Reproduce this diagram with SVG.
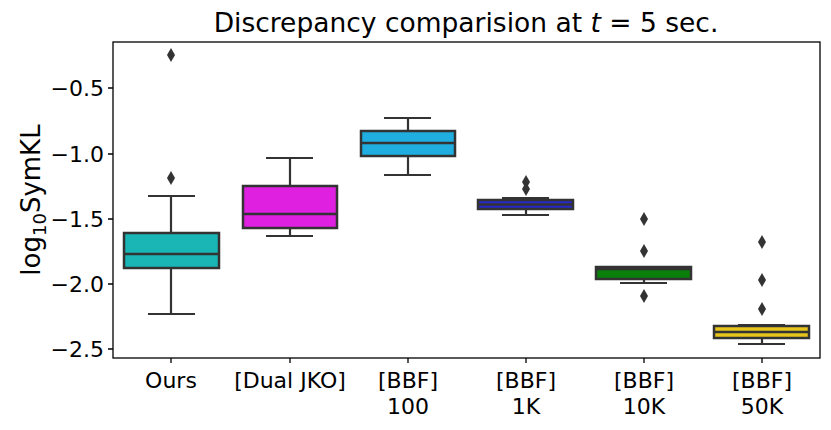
<svg xmlns="http://www.w3.org/2000/svg" width="831" height="430" viewBox="0 0 831 430">
<style>
text{font-family:"DejaVu Sans",sans-serif;fill:#000}
.t{font-size:22px}
.b{stroke:#333;stroke-width:2.5}
.w{stroke:#333;stroke-width:2.2;fill:none}
.o{fill:#333}
.ax{stroke:#000;stroke-width:1.3;fill:none}
</style>
<defs><path id="d" d="M0,-7 L4,0 L0,7 L-4,0Z"/></defs>
<rect width="831" height="430" fill="#fff"/>
<text x="466" y="32" font-size="26.5" text-anchor="middle">Discrepancy comparision at <tspan font-style="italic">t</tspan> = 5 sec.</text>
<g id="axes">
<rect class="ax" x="113" y="42" width="707" height="316"/>
<g class="ax"><path d="M113,88h-5M113,154h-5M113,219h-5M113,284h-5M113,349h-5M171,358v5M290,358v5M408,358v5M526,358v5M644,358v5M762,358v5"/></g>
<g class="t" text-anchor="end"><text x="104" y="96">−0.5</text><text x="104" y="162">−1.0</text><text x="104" y="227">−1.5</text><text x="104" y="292">−2.0</text><text x="104" y="357">−2.5</text></g>
<g class="t" text-anchor="middle"><text x="171" y="388">Ours</text><text x="290" y="388">[Dual JKO]</text><text x="408" y="388">[BBF]</text><text x="408" y="414">100</text><text x="526" y="388">[BBF]</text><text x="526" y="414">1K</text><text x="644" y="388">[BBF]</text><text x="644" y="414">10K</text><text x="762" y="388">[BBF]</text><text x="762" y="414">50K</text></g>
<text transform="translate(40,200) rotate(-90)" font-size="26" text-anchor="middle">log<tspan font-size="18" dy="6">10</tspan><tspan dy="-6">SymKL</tspan></text>
</g>
<g id="connectors" class="w">
<path d="M171,233V196M148,196h47M171,268V314M148,314h47"/>
<path d="M290,186V158M266,158h47M290,228V236M266,236h47"/>
<path d="M408,131V118M384,118h47M408,156V175M384,175h47"/>
<path d="M526,200V198M502,198h47M526,209V215M502,215h47"/>
<path d="M644,267V267M620,267h47M644,279V283M620,283h47"/>
<path d="M762,326V325M738,325h47M762,338V344M738,344h47"/>
</g>
<g id="ours"><rect class="b" x="124" y="233" width="95" height="35" fill="#1ab6b6"/><path class="b" d="M124,254h95"/><use href="#d" x="171" y="55" class="o"/><use href="#d" x="171" y="178" class="o"/></g>
<g id="dualjko"><rect class="b" x="243" y="186" width="94" height="42" fill="#e020e0"/><path class="b" d="M243,214h94"/></g>
<g id="bbf100"><rect class="b" x="361" y="131" width="94" height="25" fill="#20aee0"/><path class="b" d="M361,143h94"/></g>
<g id="bbf1k"><rect class="b" x="478" y="200" width="95" height="9" fill="#2828c8"/><path class="b" d="M478,204.5h95"/><use href="#d" x="526" y="182" class="o"/><use href="#d" x="526" y="189" class="o"/></g>
<g id="bbf10k"><rect class="b" x="596" y="267" width="95" height="12" fill="#0a800a"/><path class="b" d="M596,269h95"/><use href="#d" x="644" y="219" class="o"/><use href="#d" x="644" y="251" class="o"/><use href="#d" x="644" y="296" class="o"/></g>
<g id="bbf50k"><rect class="b" x="714" y="326" width="95" height="12" fill="#e6c41c"/><path class="b" d="M714,332h95"/><use href="#d" x="762" y="242" class="o"/><use href="#d" x="762" y="280" class="o"/><use href="#d" x="762" y="309" class="o"/></g>
</svg>
